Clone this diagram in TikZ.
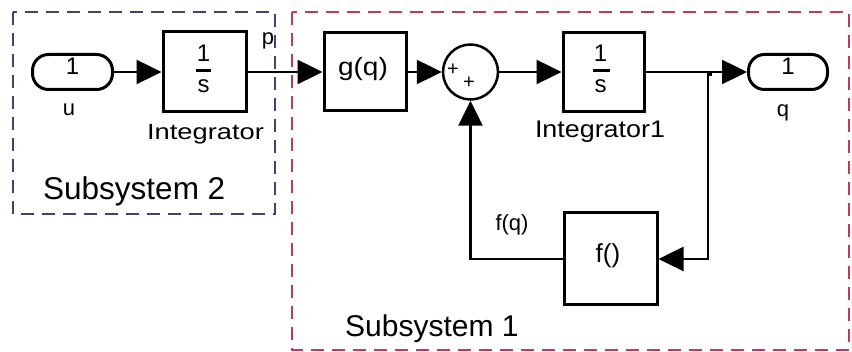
\documentclass[tikz,border=0pt]{standalone}
\usepackage{fontspec}
\usepackage{graphicx}
\setmainfont{Liberation Sans}
\usetikzlibrary{arrows.meta,calc}
\definecolor{subblue}{RGB}{65,65,120}
\definecolor{subred}{RGB}{190,60,85}
\newcommand{\fs}[1]{\fontsize{#1}{#1}\selectfont}
\begin{document}
\begin{tikzpicture}[x=1pt,y=-1pt,
  blk/.style={draw,line width=3pt,inner sep=0pt},
  portblk/.style={draw,line width=3pt,rounded corners=16pt,inner sep=0pt,minimum width=80pt,minimum height=35pt},
  conn/.style={line width=2.5pt,-{Triangle[length=25pt,width=24pt]}},
  wire/.style={line width=2.5pt},
  txt/.style={inner sep=0pt,font=\fs{24}},
  lbl/.style={inner sep=0pt,font=\fs{22}},
  area/.style={line width=2.2pt,dash pattern=on 13pt off 8pt},
  fracbar/.style={line width=3pt}
]
\useasboundingbox[fill=white] (0,0) rectangle (852,352);

% subsystem frames
\draw[area,subblue] (13,12) rectangle (275,214);
\draw[area,subred] (292,12) rectangle (849,350);
\node[inner sep=0pt,anchor=base west,font=\fs{31.5}] (s2lbl) at (43,200) {Subsystem 2};
\node[inner sep=0pt,anchor=base west,font=\fs{30}] (s1lbl) at (345,337) {Subsystem 1};

% blocks
\node[portblk] (pu) at (72.5,72) {};
\node[txt] (pu1) at (72.5,66.5) {1};
\node[lbl] (ulbl) at (69,110) {u};

\node[blk,minimum width=83pt,minimum height=80pt] (int) at (204.5,72) {};
\node[txt] (int1) at (203.5,53.5) {1};
\node[txt] (ints) at (203.5,86.5) {s};
\coordinate (ib1) at (196,70.5);
\coordinate (ib2) at (211,70.5);
\draw[fracbar] (ib1) -- (ib2);
\node[inner sep=0pt,anchor=base,font=\fs{22}] (intlbl) at (205.5,140) {\scalebox{1.24}[1]{Integrator}};
\node[lbl,anchor=base] (plbl) at (268,45) {p};

\node[blk,minimum width=82pt,minimum height=78pt] (g) at (365,72) {};
\node[txt,font=\fs{25}] (gtxt) at (363,69) {\scalebox{1.12}[1]{g(q)}};

\node[draw,circle,line width=2.5pt,minimum size=55pt,inner sep=0pt] (sum) at (470.5,72) {};
\node[inner sep=0pt,font=\fs{20}] (plus1) at (453,70) {+};
\node[inner sep=0pt,font=\fs{20}] (plus2) at (469,83) {+};

\node[blk,minimum width=81pt,minimum height=79pt] (intb) at (603.5,72) {};
\node[txt] (intb1) at (600.5,53.5) {1};
\node[txt] (intbs) at (600.5,86.5) {s};
\coordinate (jb1) at (593,71);
\coordinate (jb2) at (610,71);
\draw[fracbar] (jb1) -- (jb2);
\node[inner sep=0pt,anchor=base,font=\fs{24}] (intblbl) at (600,138) {\scalebox{1.12}[1]{Integrator1}};

\node[fill,minimum size=5pt,inner sep=0pt] (br) at (709.5,74) {};
\coordinate (bp) at (708,72);

\node[portblk,minimum width=79pt] (pq) at (788,72) {};
\node[txt] (pq1) at (788,66.5) {1};
\node[lbl,anchor=base] (qlbl) at (783,117) {q};

\node[blk,minimum width=93pt,minimum height=92pt] (fb) at (610.5,259) {};
\node[txt,font=\fs{26}] (ftxt) at (608,256) {f()};
\node[lbl] (fqlbl) at (512,225) {f(q)};

% connectors
\draw[conn] (pu.east) -- (int.west);
\draw[conn] (int.east) -- (g.west);
\draw[conn] (g.east) -- (sum.west);
\draw[conn] (sum.east) -- (intb.west);
\draw[wire] (intb.east) -- (bp);
\draw[conn] (bp) -- (pq.west);
\draw[conn] (bp) |- (fb.east);
\draw[conn] (fb.west) -| (sum.south);
\end{tikzpicture}
\end{document}
